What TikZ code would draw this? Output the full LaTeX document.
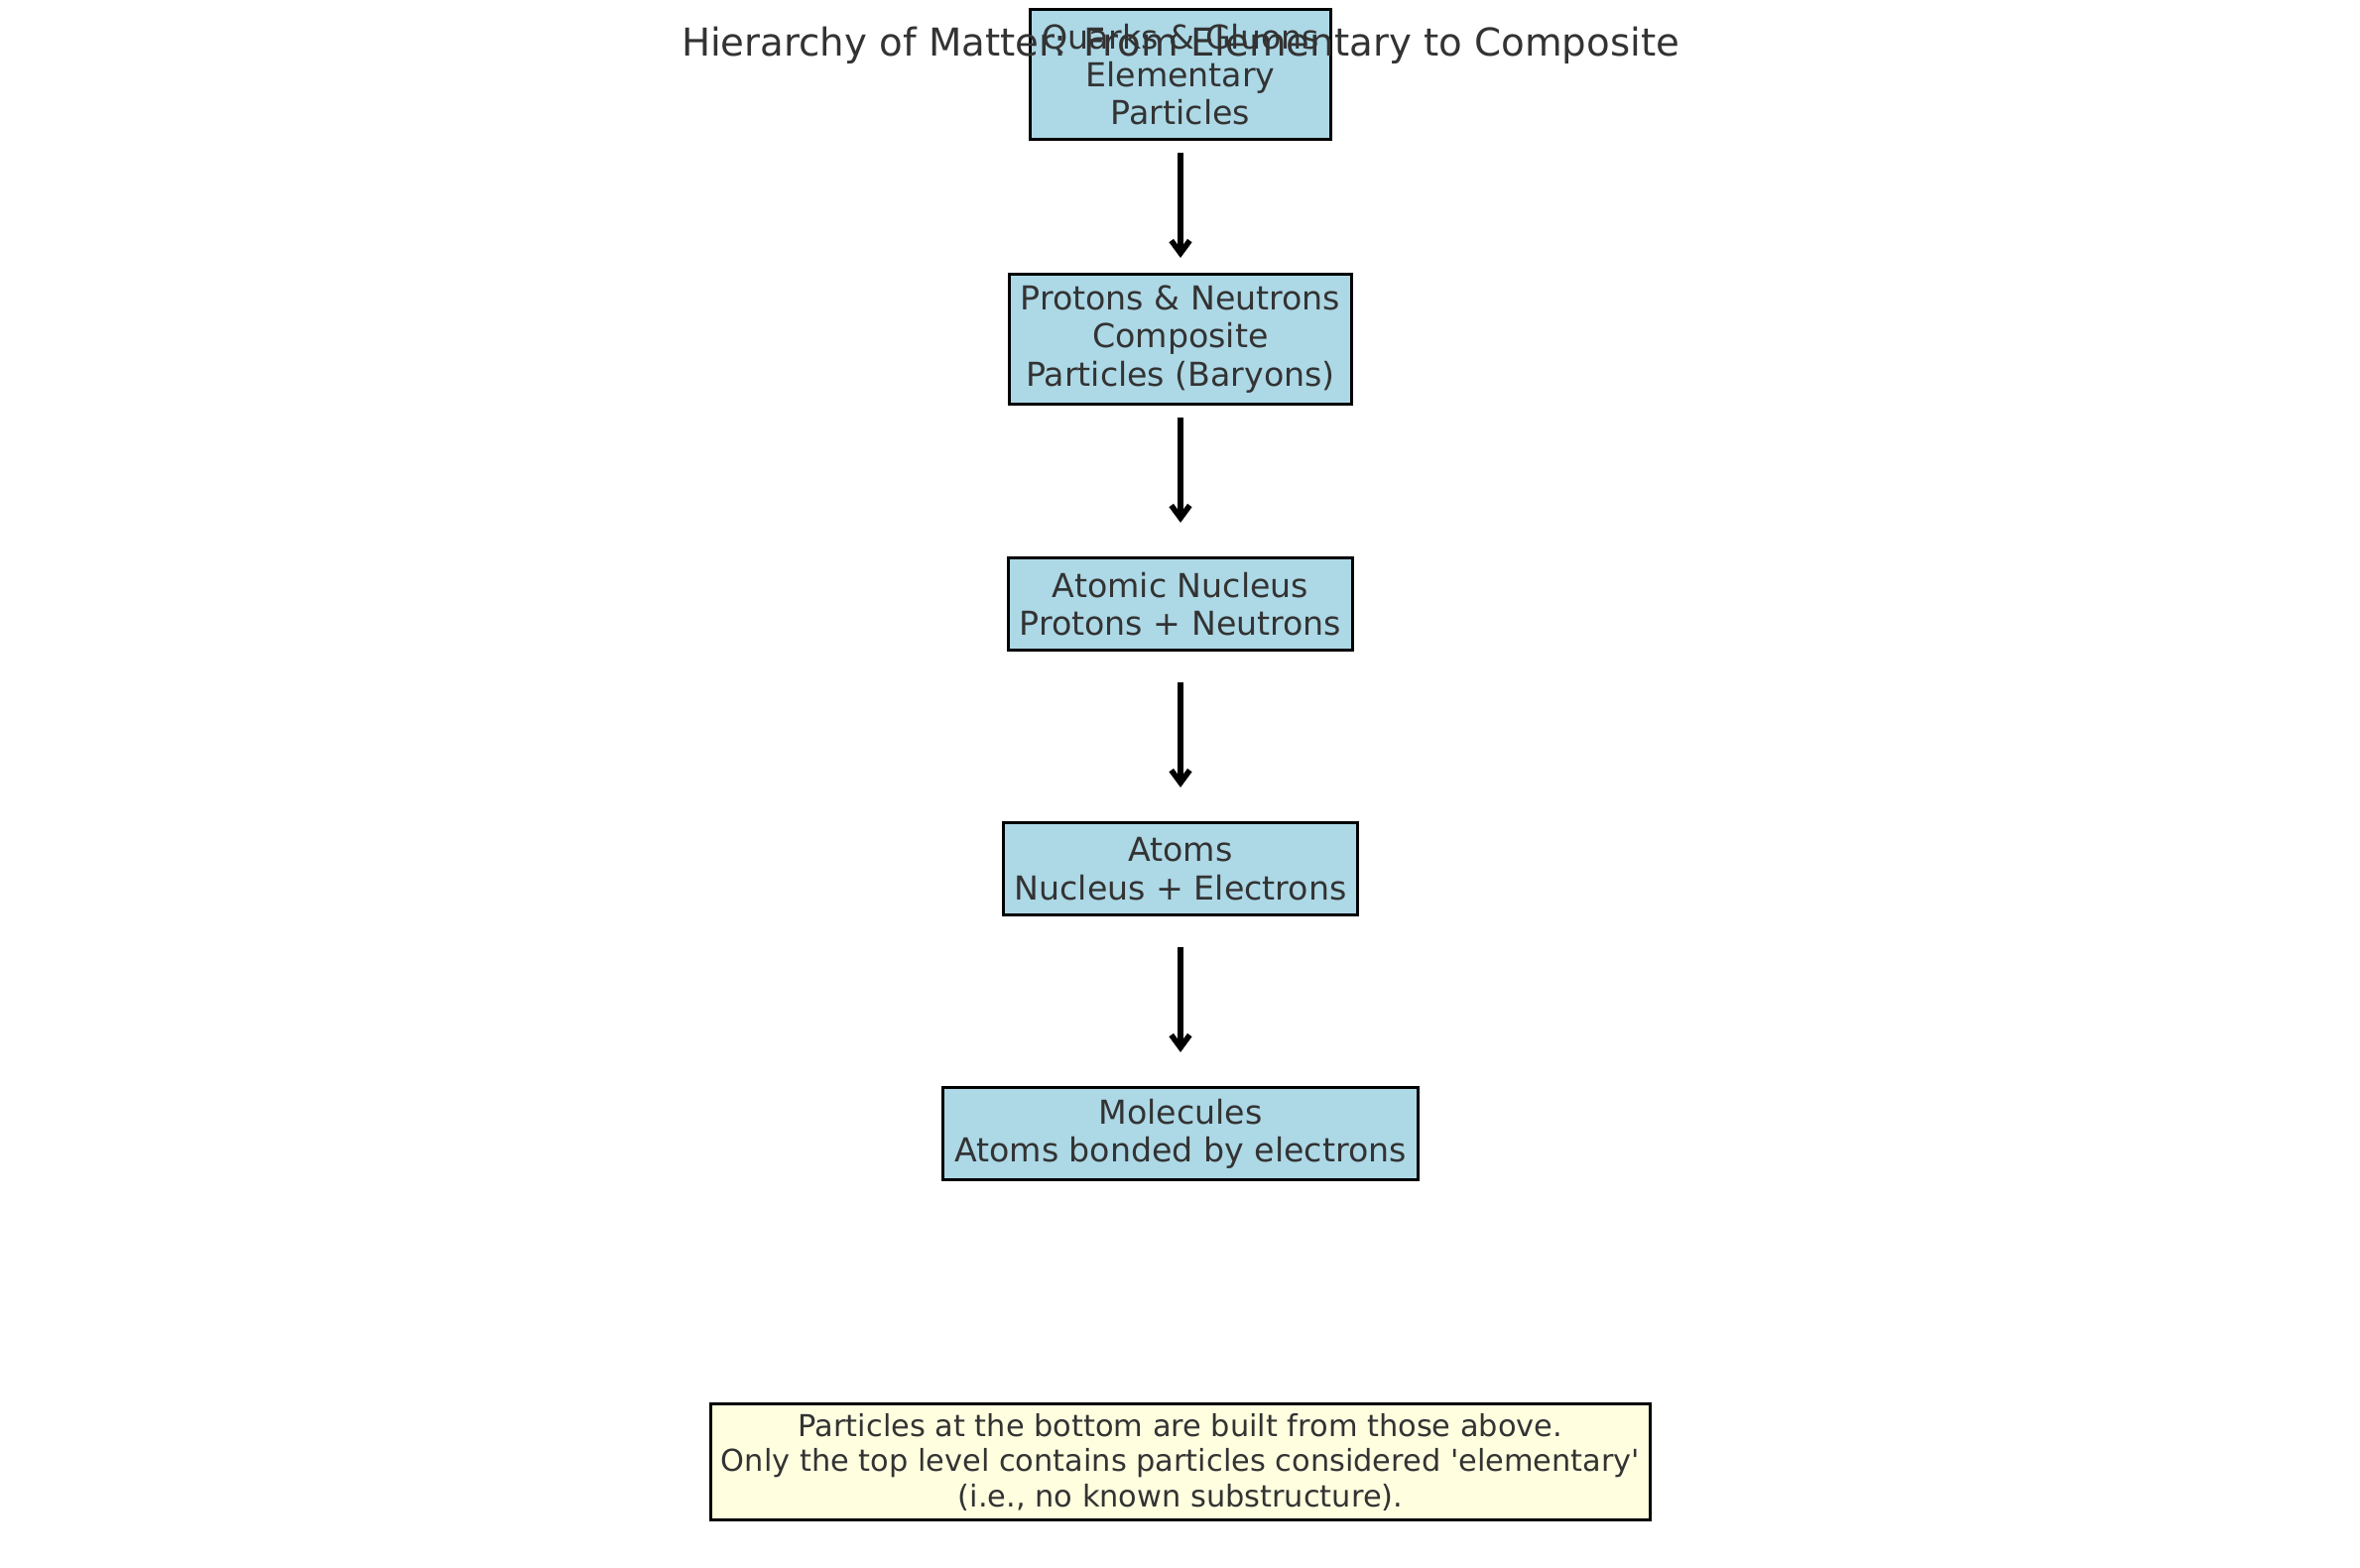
\documentclass[tikz,border=0pt]{standalone}
\usepackage{fontspec}
\setmainfont{DejaVu Sans}
\usepackage{xcolor}
\usepackage{tikz}
\usetikzlibrary{arrows.meta}
\definecolor{ink}{HTML}{333333}
\definecolor{levelbg}{HTML}{ADD8E6}
\definecolor{notebg}{HTML}{FFFFE0}
\tikzset{
  level/.style={draw=black, fill=levelbg, line width=0.9pt, text=ink, align=center,
    font=\fontsize{10}{11.5}\selectfont, inner xsep=3.4pt, inner ysep=0pt},
  lvlthree/.style={level, minimum height=39.4pt},
  lvltwo/.style={level, minimum height=28pt},
  note/.style={draw=black, fill=notebg, line width=0.9pt, text=ink, align=center,
    font=\fontsize{9.15}{10.7}\selectfont, inner xsep=3.2pt, inner ysep=0pt, minimum height=35.2pt},
  flow/.style={draw=black, line width=1.7pt, -{Straight Barb[length=3.8pt,width=5.6pt]},
    shorten <=23.8pt, shorten >=24.7pt},
  ttl/.style={text=ink, font=\fontsize{11.65}{14}\selectfont},
}

\begin{document}
\begin{tikzpicture}[x=0.301pt, y=-0.301pt]
  \useasboundingbox (0,0) rectangle (2379,1580);
  \def\cx{1190}
  \def\dy{267}

  \node[lvlthree] (quarks) at (\cx,75) {Quarks \& Gluons\\Elementary\\Particles};
  \node[lvlthree] (baryons) at (\cx,75+\dy) {Protons \& Neutrons\\Composite\\Particles (Baryons)};
  \node[lvltwo] (nucleus) at (\cx,75+2*\dy) {Atomic Nucleus\\Protons + Neutrons};
  \node[lvltwo] (atoms) at (\cx,75+3*\dy) {Atoms\\Nucleus + Electrons};
  \node[lvltwo] (molecules) at (\cx,75+4*\dy) {Molecules\\Atoms bonded by electrons};

  \draw[flow] (quarks.center) -- (baryons.center);
  \draw[flow] (baryons.center) -- (nucleus.center);
  \draw[flow] (nucleus.center) -- (atoms.center);
  \draw[flow] (atoms.center) -- (molecules.center);

  \node[note] (remark) at (\cx,1474) {Particles at the bottom are built from those above.\\Only the top level contains particles considered \textquotesingle elementary\textquotesingle\\(i.e., no known substructure).};

  \node[ttl] (title) at (\cx,46) {Hierarchy of Matter: From Elementary to Composite};
\end{tikzpicture}
\end{document}
